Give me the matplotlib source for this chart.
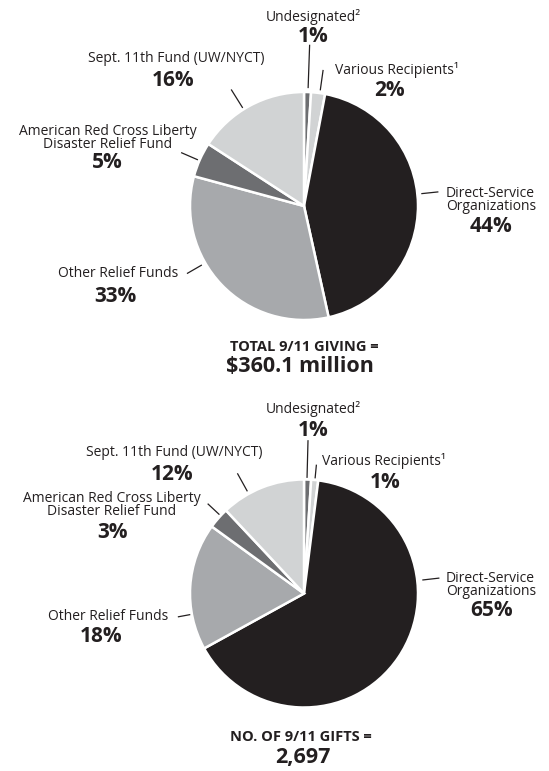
import numpy as np
import matplotlib.pyplot as plt

W, H = 549, 771

categories = ["Undesignated²", "Various Recipients¹", "Direct-Service\nOrganizations",
              "Other Relief Funds", "American Red Cross Liberty\nDisaster Relief Fund",
              "Sept. 11th Fund (UW/NYCT)"]
giving_pct = [1, 2, 44, 33, 5, 16]
gifts_pct = [1, 1, 65, 18, 3, 12]
colors = ["#6d6e71", "#d1d3d4", "#231f20", "#a7a9ac", "#6d6e71", "#d1d3d4"]

plt.rcParams["font.family"] = ["Open Sans", "DejaVu Sans"]
TXT = "#231f20"
CX, R = 304, 114

fig = plt.figure(figsize=(W / 100, H / 100), dpi=100)
fig.patch.set_facecolor("white")


def px(x, y):
    return x / W, 1 - y / H


def draw_pie(values, cy, labels, lines, totals):
    ax = fig.add_axes([(CX - R) / W, 1 - (cy + R) / H, 2 * R / W, 2 * R / H])
    ax.pie(values, colors=colors, startangle=90, counterclock=False,
           wedgeprops=dict(edgecolor="white", linewidth=1.8))
    ax.set_xlim(-1, 1)
    ax.set_ylim(-1, 1)
    ax.set_aspect("equal")
    ax.axis("off")
    # leader lines: angle clockwise from 12 o'clock, inner/outer radius
    for ang, r0, r1 in lines:
        a = np.deg2rad(ang)
        ax.plot([r0 * np.sin(a), r1 * np.sin(a)], [r0 * np.cos(a), r1 * np.cos(a)],
                color=TXT, lw=0.9, clip_on=False)
    for name, val, (x, y, ha, pxx, pyy) in zip(categories, values, labels):
        fig.text(*px(x, y), name, ha=ha, va="center", fontsize=10, color=TXT,
                 linespacing=0.85, multialignment="center" if ha == "center" else ha)
        fig.text(*px(pxx, pyy), f"{val}%", ha="center", va="center",
                 fontsize=15, fontweight="bold", color=TXT)
    (t1, x1, y1), (t2, x2, y2) = totals
    fig.text(*px(x1, y1), t1, ha="center", va="center", fontsize=10.5,
             fontweight="bold", color=TXT)
    fig.text(*px(x2, y2), t2, ha="center", va="center", fontsize=15.5,
             fontweight="bold", color=TXT)


# label layout: (text x, text y, ha, pct x, pct y)
labels1 = [(313, 17, "center", 313, 36),
           (335, 70, "left", 389, 91),
           (446, 200, "left", 491, 226),
           (178, 273, "right", 115, 296),
           (108, 138, "center", 107, 163),
           (176, 59, "center", 173, 81)]
lines1 = [(2, 1.04, 1.41), (8, 1.03, 1.2), (84, 1.04, 1.18),
          (-120, 1.04, 1.18), (-66.5, 1.02, 1.17), (-32, 1.02, 1.2)]
draw_pie(giving_pct, 206, labels1, lines1,
         (("TOTAL 9/11 GIVING =", 304, 347), ("$360.1 million", 300, 367)))

labels2 = [(313, 409, "center", 313, 431),
           (322, 461, "left", 385, 482),
           (446, 585, "left", 492, 610),
           (168, 617, "right", 101, 637),
           (112, 505, "center", 112, 532),
           (174, 453, "center", 172, 474)]
lines2 = [(1.5, 1.02, 1.34), (5.5, 1.02, 1.13), (83.5, 1.05, 1.19),
          (-100.5, 1.02, 1.12), (-47, 1.02, 1.15), (-29, 1.03, 1.2)]
draw_pie(gifts_pct, 593.5, labels2, lines2,
         (("NO. OF 9/11 GIFTS =", 301, 737), ("2,697", 303, 758)))

fig.savefig("out.png", dpi=100, facecolor="white")
